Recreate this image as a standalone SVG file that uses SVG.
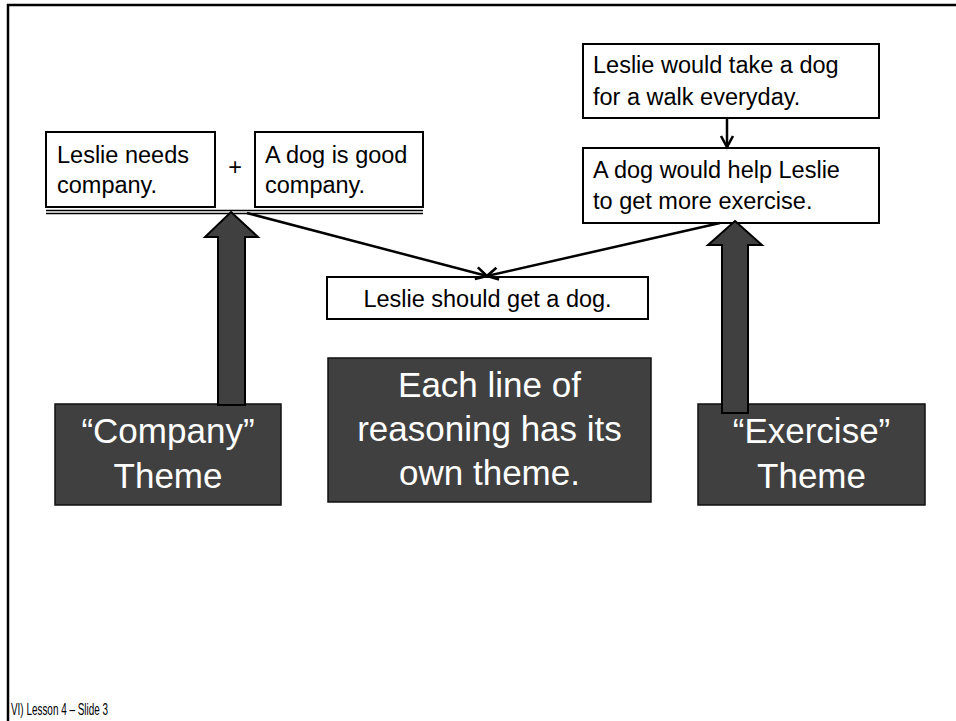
<svg xmlns="http://www.w3.org/2000/svg" width="956" height="721" viewBox="0 0 956 721">
<style>
.box{fill:#fff;stroke:#000;stroke-width:2}
.t{font-family:"Liberation Sans",Arial,sans-serif;font-size:23.5px;fill:#000}
.dark{fill:#404040;stroke:#111;stroke-width:1.5}
.big{font-family:"Liberation Sans",Arial,sans-serif;font-size:35px;fill:#fff;text-anchor:middle}
.arr{fill:#404040;stroke:#000;stroke-width:2;stroke-linejoin:miter}
.ln{stroke:#000;stroke-width:2.5;fill:none}
</style>
<defs>
<marker id="open" markerUnits="userSpaceOnUse" markerWidth="16" markerHeight="16" refX="13" refY="7" orient="auto" viewBox="0 0 16 14">
<path d="M2,1 L13,7 L2,13" fill="none" stroke="#000" stroke-width="2.6"/>
</marker>
</defs>
<rect width="956" height="721" fill="#fff"/>
<g id="frame">
<line x1="7" y1="5" x2="956" y2="5" stroke="#000" stroke-width="2.5"/>
<line x1="8" y1="4" x2="8" y2="721" stroke="#000" stroke-width="2.5"/>
</g>
<g id="premise1">
<rect class="box" x="46" y="132" width="169" height="75"/>
<text class="t" x="57" y="163">Leslie needs</text>
<text class="t" x="57" y="193">company.</text>
</g>
<g id="plus">
<text class="t" x="235" y="175" text-anchor="middle">+</text>
</g>
<g id="premise2">
<rect class="box" x="255" y="132" width="168" height="75"/>
<text class="t" x="265" y="163">A dog is good</text>
<text class="t" x="265" y="193">company.</text>
</g>
<g id="doubleline">
<line x1="46" y1="210.5" x2="423" y2="210.5" stroke="#000" stroke-width="1.7"/>
<line x1="46" y1="213.5" x2="423" y2="213.5" stroke="#000" stroke-width="1.7"/>
</g>
<g id="walk">
<rect class="box" x="583" y="44" width="296" height="74"/>
<text class="t" x="593" y="73">Leslie would take a dog</text>
<text class="t" x="593" y="105">for a walk everyday.</text>
</g>
<g id="exercise">
<rect class="box" x="583" y="148" width="296" height="75"/>
<text class="t" x="593" y="178">A dog would help Leslie</text>
<text class="t" x="593" y="209">to get more exercise.</text>
</g>
<g id="conclusion">
<rect class="box" x="327" y="277" width="321" height="42"/>
<text class="t" x="487.5" y="307" text-anchor="middle">Leslie should get a dog.</text>
</g>
<g id="connectors">
<line class="ln" x1="247" y1="213" x2="487" y2="276" marker-end="url(#open)"/>
<line class="ln" x1="720" y1="223" x2="487" y2="276" marker-end="url(#open)"/>
<line class="ln" x1="727" y1="118" x2="727" y2="147" marker-end="url(#open)"/>
</g>
<g id="companyTheme">
<rect class="dark" x="55" y="404" width="226" height="101"/>
<text class="big" x="168" y="443">“Company”</text>
<text class="big" x="168" y="488">Theme</text>
</g>
<g id="centerNote">
<rect class="dark" x="328" y="358" width="323" height="144"/>
<text class="big" x="489.5" y="397">Each line of</text>
<text class="big" x="489.5" y="441">reasoning has its</text>
<text class="big" x="489.5" y="485">own theme.</text>
</g>
<g id="exerciseTheme">
<rect class="dark" x="698" y="404" width="227" height="101"/>
<text class="big" x="811.5" y="443">“Exercise”</text>
<text class="big" x="811.5" y="488">Theme</text>
</g>
<g id="bigArrows">
<polygon class="arr" points="231,212 258,237 245,237 245,405 218,405 218,237 205,237"/>
<polygon class="arr" points="735,221 762,245 748,245 748,413 722,413 722,245 708,245"/>
</g>
<g id="footer">
<text x="11" y="715" font-family="'Liberation Sans',Arial,sans-serif" font-size="16" textLength="97" lengthAdjust="spacingAndGlyphs" fill="#000">VI) Lesson 4 – Slide 3</text>
</g>
</svg>
